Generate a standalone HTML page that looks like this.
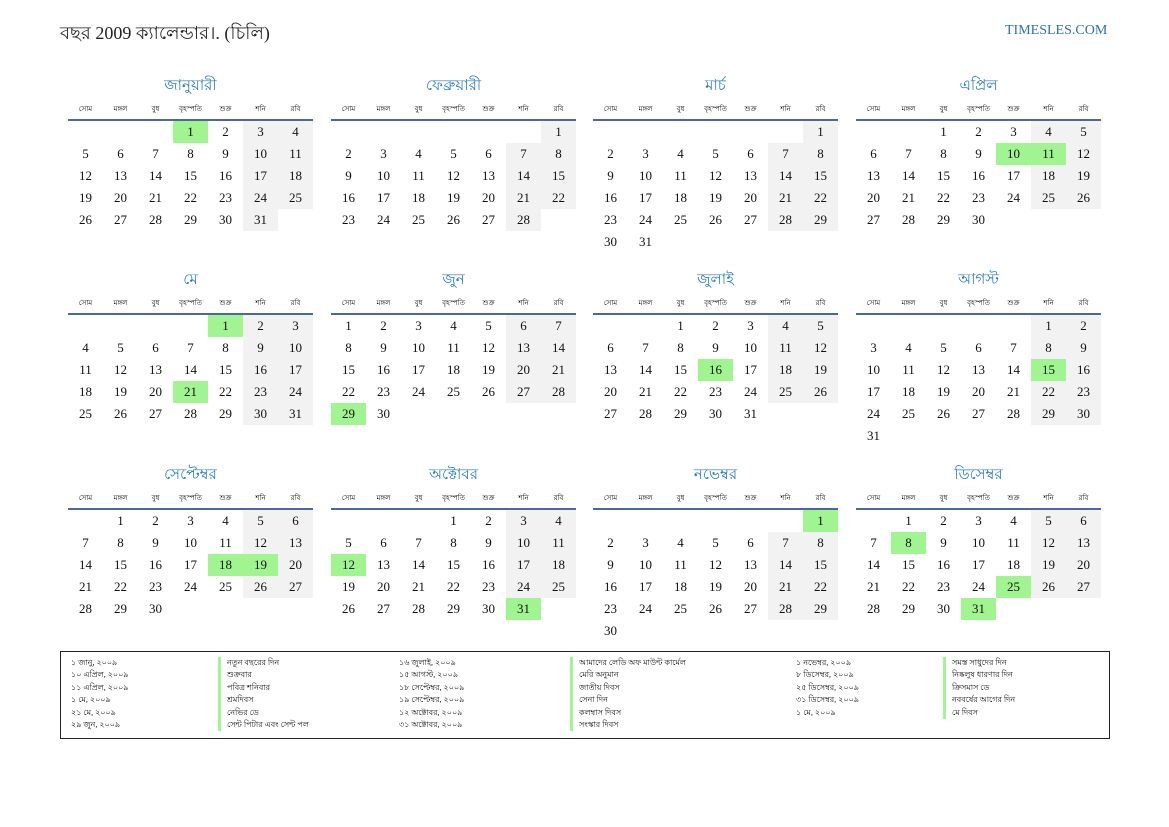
<!DOCTYPE html>
<html><head><meta charset="utf-8"><style>
body{margin:0;width:1169px;height:827px;background:#fff;position:relative;overflow:hidden;font-family:"Liberation Serif","Noto Sans CJK SC",serif;}
.t{position:absolute;left:60px;top:19px;font-size:18px;color:#222;}
.site{position:absolute;left:1005px;top:23px;font-size:14px;color:#2a6fb5;}
.m{position:absolute;width:245px;}
.m h3{margin:0;position:absolute;top:4px;width:245px;text-align:center;font-weight:normal;font-size:15px;color:#2a7ac0;}
.wd{position:absolute;top:33px;left:0;width:245px;display:flex;font-size:7px;color:#000;}
.wd span{width:35px;text-align:center;}
.ln{position:absolute;top:49px;left:0;width:245px;height:2px;background:#4a6a95;}
table{position:absolute;top:51px;left:0;border-collapse:collapse;table-layout:fixed;width:245px;}
td{width:35px;height:22px;padding:0;line-height:22px;text-align:center;font-size:13px;color:#111;}
td.w{background:#f2f2f2;}
td.h{background:#a0f590;}
.lg{position:absolute;left:60px;top:651px;width:1048px;height:86px;border:1px solid #222;font-size:8px;color:#111;}
.c{position:absolute;top:5px;line-height:12.4px;}
.b{border-left:3px solid #a0f590;padding-left:6px;}
</style></head><body>
<div class="t">বছর 2009 ক্যালেন্ডার।. (চিলি)</div>
<div class="site">TIMESLES.COM</div>

<div class="m" style="left:68px;top:70px"><h3>জানুয়ারী</h3><div class="wd"><span>সোম</span><span>মঙ্গল</span><span>বুধ</span><span>বৃহস্পতি</span><span>শুক্র</span><span>শনি</span><span>রবি</span></div><div class="ln"></div><table>
<tr><td></td><td></td><td></td><td class="h">1</td><td>2</td><td class="w">3</td><td class="w">4</td></tr>
<tr><td>5</td><td>6</td><td>7</td><td>8</td><td>9</td><td class="w">10</td><td class="w">11</td></tr>
<tr><td>12</td><td>13</td><td>14</td><td>15</td><td>16</td><td class="w">17</td><td class="w">18</td></tr>
<tr><td>19</td><td>20</td><td>21</td><td>22</td><td>23</td><td class="w">24</td><td class="w">25</td></tr>
<tr><td>26</td><td>27</td><td>28</td><td>29</td><td>30</td><td class="w">31</td><td></td></tr>
</table></div>

<div class="m" style="left:331px;top:70px"><h3>ফেব্রুয়ারী</h3><div class="wd"><span>সোম</span><span>মঙ্গল</span><span>বুধ</span><span>বৃহস্পতি</span><span>শুক্র</span><span>শনি</span><span>রবি</span></div><div class="ln"></div><table>
<tr><td></td><td></td><td></td><td></td><td></td><td></td><td class="w">1</td></tr>
<tr><td>2</td><td>3</td><td>4</td><td>5</td><td>6</td><td class="w">7</td><td class="w">8</td></tr>
<tr><td>9</td><td>10</td><td>11</td><td>12</td><td>13</td><td class="w">14</td><td class="w">15</td></tr>
<tr><td>16</td><td>17</td><td>18</td><td>19</td><td>20</td><td class="w">21</td><td class="w">22</td></tr>
<tr><td>23</td><td>24</td><td>25</td><td>26</td><td>27</td><td class="w">28</td><td></td></tr>
</table></div>

<div class="m" style="left:593px;top:70px"><h3>মার্চ</h3><div class="wd"><span>সোম</span><span>মঙ্গল</span><span>বুধ</span><span>বৃহস্পতি</span><span>শুক্র</span><span>শনি</span><span>রবি</span></div><div class="ln"></div><table>
<tr><td></td><td></td><td></td><td></td><td></td><td></td><td class="w">1</td></tr>
<tr><td>2</td><td>3</td><td>4</td><td>5</td><td>6</td><td class="w">7</td><td class="w">8</td></tr>
<tr><td>9</td><td>10</td><td>11</td><td>12</td><td>13</td><td class="w">14</td><td class="w">15</td></tr>
<tr><td>16</td><td>17</td><td>18</td><td>19</td><td>20</td><td class="w">21</td><td class="w">22</td></tr>
<tr><td>23</td><td>24</td><td>25</td><td>26</td><td>27</td><td class="w">28</td><td class="w">29</td></tr>
<tr><td>30</td><td>31</td><td></td><td></td><td></td><td></td><td></td></tr>
</table></div>

<div class="m" style="left:856px;top:70px"><h3>এপ্রিল</h3><div class="wd"><span>সোম</span><span>মঙ্গল</span><span>বুধ</span><span>বৃহস্পতি</span><span>শুক্র</span><span>শনি</span><span>রবি</span></div><div class="ln"></div><table>
<tr><td></td><td></td><td>1</td><td>2</td><td>3</td><td class="w">4</td><td class="w">5</td></tr>
<tr><td>6</td><td>7</td><td>8</td><td>9</td><td class="h">10</td><td class="h">11</td><td class="w">12</td></tr>
<tr><td>13</td><td>14</td><td>15</td><td>16</td><td>17</td><td class="w">18</td><td class="w">19</td></tr>
<tr><td>20</td><td>21</td><td>22</td><td>23</td><td>24</td><td class="w">25</td><td class="w">26</td></tr>
<tr><td>27</td><td>28</td><td>29</td><td>30</td><td></td><td></td><td></td></tr>
</table></div>

<div class="m" style="left:68px;top:264px"><h3>মে</h3><div class="wd"><span>সোম</span><span>মঙ্গল</span><span>বুধ</span><span>বৃহস্পতি</span><span>শুক্র</span><span>শনি</span><span>রবি</span></div><div class="ln"></div><table>
<tr><td></td><td></td><td></td><td></td><td class="h">1</td><td class="w">2</td><td class="w">3</td></tr>
<tr><td>4</td><td>5</td><td>6</td><td>7</td><td>8</td><td class="w">9</td><td class="w">10</td></tr>
<tr><td>11</td><td>12</td><td>13</td><td>14</td><td>15</td><td class="w">16</td><td class="w">17</td></tr>
<tr><td>18</td><td>19</td><td>20</td><td class="h">21</td><td>22</td><td class="w">23</td><td class="w">24</td></tr>
<tr><td>25</td><td>26</td><td>27</td><td>28</td><td>29</td><td class="w">30</td><td class="w">31</td></tr>
</table></div>

<div class="m" style="left:331px;top:264px"><h3>জুন</h3><div class="wd"><span>সোম</span><span>মঙ্গল</span><span>বুধ</span><span>বৃহস্পতি</span><span>শুক্র</span><span>শনি</span><span>রবি</span></div><div class="ln"></div><table>
<tr><td>1</td><td>2</td><td>3</td><td>4</td><td>5</td><td class="w">6</td><td class="w">7</td></tr>
<tr><td>8</td><td>9</td><td>10</td><td>11</td><td>12</td><td class="w">13</td><td class="w">14</td></tr>
<tr><td>15</td><td>16</td><td>17</td><td>18</td><td>19</td><td class="w">20</td><td class="w">21</td></tr>
<tr><td>22</td><td>23</td><td>24</td><td>25</td><td>26</td><td class="w">27</td><td class="w">28</td></tr>
<tr><td class="h">29</td><td>30</td><td></td><td></td><td></td><td></td><td></td></tr>
</table></div>

<div class="m" style="left:593px;top:264px"><h3>জুলাই</h3><div class="wd"><span>সোম</span><span>মঙ্গল</span><span>বুধ</span><span>বৃহস্পতি</span><span>শুক্র</span><span>শনি</span><span>রবি</span></div><div class="ln"></div><table>
<tr><td></td><td></td><td>1</td><td>2</td><td>3</td><td class="w">4</td><td class="w">5</td></tr>
<tr><td>6</td><td>7</td><td>8</td><td>9</td><td>10</td><td class="w">11</td><td class="w">12</td></tr>
<tr><td>13</td><td>14</td><td>15</td><td class="h">16</td><td>17</td><td class="w">18</td><td class="w">19</td></tr>
<tr><td>20</td><td>21</td><td>22</td><td>23</td><td>24</td><td class="w">25</td><td class="w">26</td></tr>
<tr><td>27</td><td>28</td><td>29</td><td>30</td><td>31</td><td></td><td></td></tr>
</table></div>

<div class="m" style="left:856px;top:264px"><h3>আগস্ট</h3><div class="wd"><span>সোম</span><span>মঙ্গল</span><span>বুধ</span><span>বৃহস্পতি</span><span>শুক্র</span><span>শনি</span><span>রবি</span></div><div class="ln"></div><table>
<tr><td></td><td></td><td></td><td></td><td></td><td class="w">1</td><td class="w">2</td></tr>
<tr><td>3</td><td>4</td><td>5</td><td>6</td><td>7</td><td class="w">8</td><td class="w">9</td></tr>
<tr><td>10</td><td>11</td><td>12</td><td>13</td><td>14</td><td class="h">15</td><td class="w">16</td></tr>
<tr><td>17</td><td>18</td><td>19</td><td>20</td><td>21</td><td class="w">22</td><td class="w">23</td></tr>
<tr><td>24</td><td>25</td><td>26</td><td>27</td><td>28</td><td class="w">29</td><td class="w">30</td></tr>
<tr><td>31</td><td></td><td></td><td></td><td></td><td></td><td></td></tr>
</table></div>

<div class="m" style="left:68px;top:459px"><h3>সেপ্টেম্বর</h3><div class="wd"><span>সোম</span><span>মঙ্গল</span><span>বুধ</span><span>বৃহস্পতি</span><span>শুক্র</span><span>শনি</span><span>রবি</span></div><div class="ln"></div><table>
<tr><td></td><td>1</td><td>2</td><td>3</td><td>4</td><td class="w">5</td><td class="w">6</td></tr>
<tr><td>7</td><td>8</td><td>9</td><td>10</td><td>11</td><td class="w">12</td><td class="w">13</td></tr>
<tr><td>14</td><td>15</td><td>16</td><td>17</td><td class="h">18</td><td class="h">19</td><td class="w">20</td></tr>
<tr><td>21</td><td>22</td><td>23</td><td>24</td><td>25</td><td class="w">26</td><td class="w">27</td></tr>
<tr><td>28</td><td>29</td><td>30</td><td></td><td></td><td></td><td></td></tr>
</table></div>

<div class="m" style="left:331px;top:459px"><h3>অক্টোবর</h3><div class="wd"><span>সোম</span><span>মঙ্গল</span><span>বুধ</span><span>বৃহস্পতি</span><span>শুক্র</span><span>শনি</span><span>রবি</span></div><div class="ln"></div><table>
<tr><td></td><td></td><td></td><td>1</td><td>2</td><td class="w">3</td><td class="w">4</td></tr>
<tr><td>5</td><td>6</td><td>7</td><td>8</td><td>9</td><td class="w">10</td><td class="w">11</td></tr>
<tr><td class="h">12</td><td>13</td><td>14</td><td>15</td><td>16</td><td class="w">17</td><td class="w">18</td></tr>
<tr><td>19</td><td>20</td><td>21</td><td>22</td><td>23</td><td class="w">24</td><td class="w">25</td></tr>
<tr><td>26</td><td>27</td><td>28</td><td>29</td><td>30</td><td class="h">31</td><td></td></tr>
</table></div>

<div class="m" style="left:593px;top:459px"><h3>নভেম্বর</h3><div class="wd"><span>সোম</span><span>মঙ্গল</span><span>বুধ</span><span>বৃহস্পতি</span><span>শুক্র</span><span>শনি</span><span>রবি</span></div><div class="ln"></div><table>
<tr><td></td><td></td><td></td><td></td><td></td><td></td><td class="h">1</td></tr>
<tr><td>2</td><td>3</td><td>4</td><td>5</td><td>6</td><td class="w">7</td><td class="w">8</td></tr>
<tr><td>9</td><td>10</td><td>11</td><td>12</td><td>13</td><td class="w">14</td><td class="w">15</td></tr>
<tr><td>16</td><td>17</td><td>18</td><td>19</td><td>20</td><td class="w">21</td><td class="w">22</td></tr>
<tr><td>23</td><td>24</td><td>25</td><td>26</td><td>27</td><td class="w">28</td><td class="w">29</td></tr>
<tr><td>30</td><td></td><td></td><td></td><td></td><td></td><td></td></tr>
</table></div>

<div class="m" style="left:856px;top:459px"><h3>ডিসেম্বর</h3><div class="wd"><span>সোম</span><span>মঙ্গল</span><span>বুধ</span><span>বৃহস্পতি</span><span>শুক্র</span><span>শনি</span><span>রবি</span></div><div class="ln"></div><table>
<tr><td></td><td>1</td><td>2</td><td>3</td><td>4</td><td class="w">5</td><td class="w">6</td></tr>
<tr><td>7</td><td class="h">8</td><td>9</td><td>10</td><td>11</td><td class="w">12</td><td class="w">13</td></tr>
<tr><td>14</td><td>15</td><td>16</td><td>17</td><td>18</td><td class="w">19</td><td class="w">20</td></tr>
<tr><td>21</td><td>22</td><td>23</td><td>24</td><td class="h">25</td><td class="w">26</td><td class="w">27</td></tr>
<tr><td>28</td><td>29</td><td>30</td><td class="h">31</td><td></td><td></td><td></td></tr>
</table></div>

<div class="lg">
<div class="c" style="left:10px">১ জানু, ২০০৯<br>১০ এপ্রিল, ২০০৯<br>১১ এপ্রিল, ২০০৯<br>১ মে, ২০০৯<br>২১ মে, ২০০৯<br>২৯ জুন, ২০০৯</div>
<div class="c b" style="left:157px">নতুন বছরের দিন<br>শুক্রবার<br>পবিত্র শনিবার<br>শ্রমদিবস<br>নেভির ডে<br>সেন্ট পিটার এবং সেন্ট পল</div>
<div class="c" style="left:338px">১৬ জুলাই, ২০০৯<br>১৫ আগস্ট, ২০০৯<br>১৮ সেপ্টেম্বর, ২০০৯<br>১৯ সেপ্টেম্বর, ২০০৯<br>১২ অক্টোবর, ২০০৯<br>৩১ অক্টোবর, ২০০৯</div>
<div class="c b" style="left:509px">আমাদের লেডি অফ মাউন্ট কার্মেল<br>মেরি অনুমান<br>জাতীয় দিবস<br>সেনা দিন<br>কলম্বাস দিবস<br>সংস্কার দিবস</div>
<div class="c" style="left:735px">১ নভেম্বর, ২০০৯<br>৮ ডিসেম্বর, ২০০৯<br>২৫ ডিসেম্বর, ২০০৯<br>৩১ ডিসেম্বর, ২০০৯<br>১ মে, ২০০৯</div>
<div class="c b" style="left:882px">সমস্ত সাধুদের দিন<br>নিষ্কলুষ ধারণার দিন<br>ক্রিসমাস ডে<br>নববর্ষের আগের দিন<br>মে দিবস</div>
</div>
</body></html>
